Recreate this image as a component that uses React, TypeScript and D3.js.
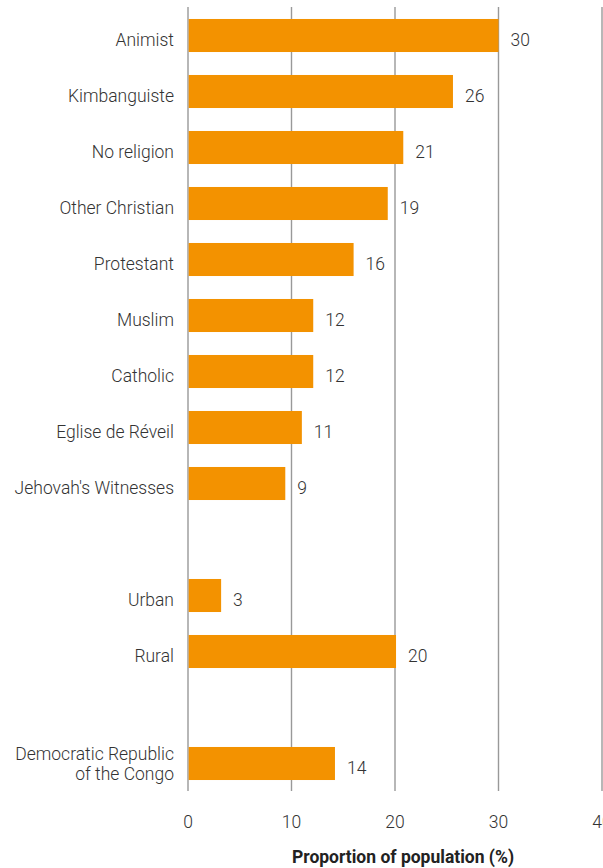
import React from "react";
import * as d3 from "d3";

const categories: string[][] = [
  ["Animist"],
  ["Kimbanguiste"],
  ["No religion"],
  ["Other Christian"],
  ["Protestant"],
  ["Muslim"],
  ["Catholic"],
  ["Eglise de Réveil"],
  ["Jehovah's Witnesses"],
  [],
  ["Urban"],
  ["Rural"],
  [],
  ["Democratic Republic", "of the Congo"],
];
const values: (number | null)[] = [30, 25.6, 20.8, 19.3, 16.0, 12.1, 12.1, 11.0, 9.4, null, 3.2, 20.1, null, 14.2];
const valueLabels: string[] = ["30", "26", "21", "19", "16", "12", "12", "11", "9", "", "3", "20", "", "14"];
const ticks: number[] = [0, 10, 20, 30, 40];
const axisTitle = "Proportion of population (%)";

const W = 603;
const H = 868;
const FONT = "Roboto, 'Noto Sans', sans-serif";
const FS = 17.5;

export default function App() {
  const x = d3.scaleLinear().domain([0, 40]).range([188, 602]);
  const y = d3
    .scaleBand<number>()
    .domain(categories.map((_, i) => i))
    .range([7.5, 791.5])
    .paddingInner(0.41)
    .paddingOuter(0.205);
  const bw = y.bandwidth();

  return (
    <svg
      width={W}
      height={H}
      style={{ position: "absolute", left: 0, top: 0, display: "block", background: "#fff" }}
      fontFamily={FONT}
    >
      {ticks.map((t) => (
        <line key={"g" + t} x1={x(t)} x2={x(t)} y1={7} y2={791} stroke="#999" strokeWidth={1.4} />
      ))}
      {values.map((v, i) =>
        v == null ? null : (
          <g key={"b" + i}>
            <rect x={x(0) + 0.7} y={y(i)!} width={x(v) - x(0) - 0.7} height={bw} fill="#f39200" />
            <text
              x={x(v) + 12}
              y={y(i)! + bw / 2 + 4}
              dy="0.35em"
              fontSize={FS}
              fontWeight={300}
              fill="#333"
            >
              {valueLabels[i]}
            </text>
          </g>
        )
      )}
      {categories.map((lines, i) =>
        lines.length === 0 ? null : (
          <text key={"c" + i} x={174} y={y(i)! + bw / 2 + (lines.length === 1 ? 4 : -10)} textAnchor="end" fontSize={FS} fontWeight={300} fill="#333">
            {lines.map((l, j) => (
              <tspan key={j} x={174} dy={j === 0 ? "0.35em" : "20"}>
                {l}
              </tspan>
            ))}
          </text>
        )
      )}
      {ticks.map((t) => (
        <text key={"t" + t} x={x(t)} y={822} dy="0.35em" textAnchor="middle" fontSize={FS} fontWeight={300} fill="#333">
          {t}
        </text>
      ))}
      <text x={403} y={857} dy="0.35em" textAnchor="middle" fontSize={FS} fontWeight="bold" fill="#222">
        {axisTitle}
      </text>
    </svg>
  );
}
